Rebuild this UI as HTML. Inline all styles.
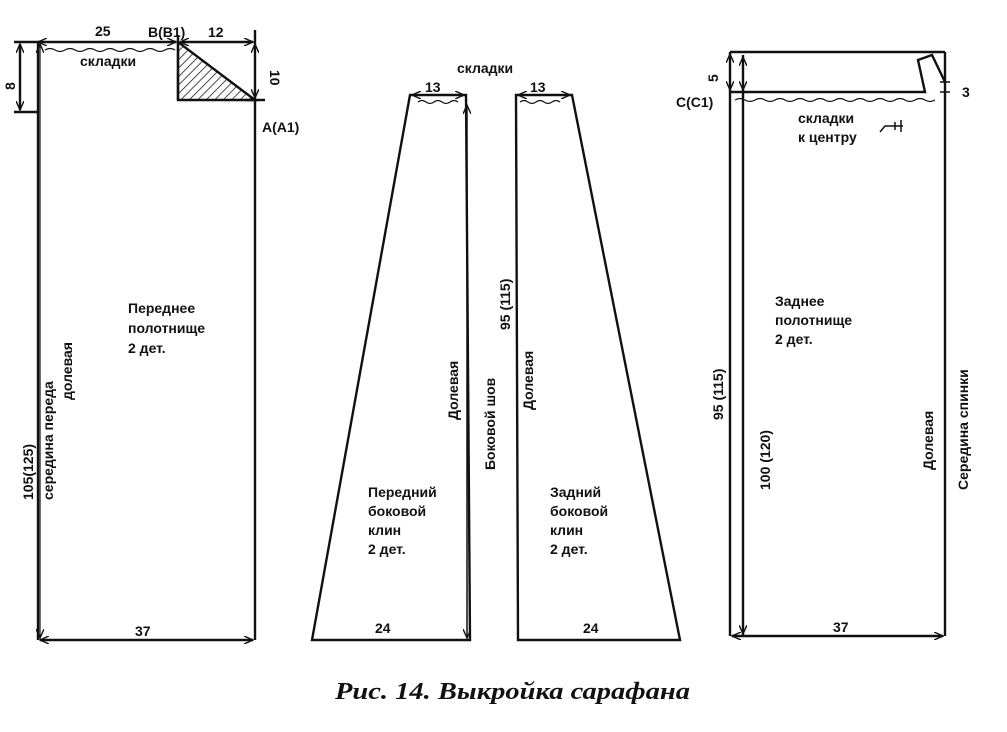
<!DOCTYPE html>
<html><head><meta charset="utf-8"><style>
body{margin:0;background:#fff}
svg text{font-family:"Liberation Sans",sans-serif;font-weight:bold;fill:#111}
</style></head><body>
<svg width="1007" height="727" viewBox="0 0 1007 727" xmlns="http://www.w3.org/2000/svg">
<defs>
<pattern id="h" width="6" height="6" patternUnits="userSpaceOnUse" patternTransform="rotate(45)"><line x1="0" y1="0" x2="0" y2="6" stroke="#111" stroke-width="1.5"/></pattern>
<marker id="a" markerWidth="10" markerHeight="8" refX="9" refY="4" orient="auto-start-reverse" markerUnits="userSpaceOnUse"><path d="M0,0 L9,4 L0,8" fill="none" stroke="#111" stroke-width="1.4"/></marker>
</defs>
<g stroke="#111" stroke-width="2.4" fill="none">
<!-- front panel -->
<polygon points="178,42 178,100 255,100" fill="url(#h)" stroke="#111"/>
<line x1="38" y1="42" x2="38" y2="640"/>
<line x1="255" y1="30" x2="255" y2="640"/>
<line x1="38" y1="42" x2="176" y2="42" marker-start="url(#a)" marker-end="url(#a)"/>
<line x1="180" y1="42" x2="253" y2="42" marker-start="url(#a)" marker-end="url(#a)"/>
<line x1="178" y1="35" x2="178" y2="100"/>
<line x1="14" y1="42" x2="40" y2="42"/>
<line x1="14" y1="112" x2="38" y2="112"/>
<line x1="20" y1="44" x2="20" y2="110" marker-start="url(#a)" marker-end="url(#a)"/>
<line x1="255" y1="44" x2="255" y2="98" marker-start="url(#a)" marker-end="url(#a)" stroke-width="1.5"/>
<line x1="245" y1="100" x2="265" y2="100"/>
<line x1="40" y1="640" x2="253" y2="640" marker-start="url(#a)" marker-end="url(#a)"/>
<line x1="40" y1="44" x2="40" y2="638" marker-start="url(#a)" marker-end="url(#a)" stroke-width="1.2"/>
<path d="M45,50 q5,-3 10,0 t10,0 t10,0 t10,0 t10,0 t10,0 t10,0 t10,0 t10,0 t10,0 t10,0 t10,0 t10,0" stroke-width="1.2"/>
<!-- wedge 1 -->
<polygon points="410,95 466,95 470,640 312,640"/>
<line x1="412" y1="95" x2="464" y2="95" marker-start="url(#a)" marker-end="url(#a)" stroke-width="1.5"/>
<line x1="467" y1="105" x2="467" y2="638" marker-start="url(#a)" marker-end="url(#a)" stroke-width="1.5"/>
<path d="M418,102 q4,-3 8,0 t8,0 t8,0 t8,0 t8,0" stroke-width="1.2"/>
<!-- wedge 2 -->
<polygon points="516,95 572,95 680,640 518,640"/>
<line x1="518" y1="95" x2="570" y2="95" marker-start="url(#a)" marker-end="url(#a)" stroke-width="1.5"/>
<path d="M520,102 q4,-3 8,0 t8,0 t8,0 t8,0 t8,0" stroke-width="1.2"/>
<!-- back panel -->
<line x1="730" y1="52" x2="945" y2="52"/>
<line x1="945" y1="52" x2="945" y2="636"/>
<line x1="743" y1="55" x2="743" y2="636"/>
<line x1="730" y1="52" x2="730" y2="636"/>
<polyline points="730,92 925,92 918,60 932,55 945,82"/>
<line x1="730" y1="54" x2="730" y2="90" marker-start="url(#a)" marker-end="url(#a)" stroke-width="1.2"/>
<line x1="743" y1="57" x2="743" y2="90" marker-start="url(#a)" marker-end="url(#a)" stroke-width="1.2"/>
<line x1="743" y1="96" x2="743" y2="634" marker-end="url(#a)" stroke-width="1.2"/>
<line x1="732" y1="636" x2="943" y2="636" marker-start="url(#a)" marker-end="url(#a)"/>
<line x1="940" y1="82" x2="950" y2="82" stroke-width="1.5"/>
<line x1="940" y1="92" x2="950" y2="92" stroke-width="1.5"/>
<path d="M735,100 q5,-3 10,0 t10,0 t10,0 t10,0 t10,0 t10,0 t10,0 t10,0 t10,0 t10,0 t10,0 t10,0 t10,0 t10,0 t10,0 t10,0 t10,0 t10,0 t10,0 t10,0" stroke-width="1.2"/>
<path d="M880,132 l5,-6 l18,0 m-8,-4 l0,8 m6,-10 l0,12" stroke-width="1.5"/>
</g>
<g font-size="14">
<text x="95" y="36">25</text>
<text x="148" y="37">B(B1)</text>
<text x="208" y="37">12</text>
<text x="80" y="66">складки</text>
<text x="262" y="132">A(A1)</text>
<text transform="translate(15,90) rotate(-90)">8</text>
<text transform="translate(270,70) rotate(90)">10</text>
<text x="128" y="313">Переднее</text>
<text x="128" y="333">полотнище</text>
<text x="128" y="353">2 дет.</text>
<text transform="translate(33,500) rotate(-90)">105(125)</text>
<text transform="translate(53,500) rotate(-90)">середина переда</text>
<text transform="translate(72,400) rotate(-90)">долевая</text>
<text x="135" y="636">37</text>
<text x="457" y="73">складки</text>
<text x="425" y="92">13</text>
<text x="530" y="92">13</text>
<text transform="translate(458,420) rotate(-90)">Долевая</text>
<text transform="translate(495,470) rotate(-90)">Боковой шов</text>
<text transform="translate(510,330) rotate(-90)">95 (115)</text>
<text transform="translate(533,410) rotate(-90)">Долевая</text>
<text x="368" y="497">Передний</text>
<text x="368" y="516">боковой</text>
<text x="368" y="535">клин</text>
<text x="368" y="554">2 дет.</text>
<text x="550" y="497">Задний</text>
<text x="550" y="516">боковой</text>
<text x="550" y="535">клин</text>
<text x="550" y="554">2 дет.</text>
<text x="375" y="633">24</text>
<text x="583" y="633">24</text>
<text transform="translate(718,82) rotate(-90)">5</text>
<text x="676" y="107">C(C1)</text>
<text x="962" y="97">3</text>
<text x="798" y="123">складки</text>
<text x="798" y="142">к центру</text>
<text x="775" y="306">Заднее</text>
<text x="775" y="325">полотнище</text>
<text x="775" y="344">2 дет.</text>
<text transform="translate(723,420) rotate(-90)">95 (115)</text>
<text transform="translate(770,490) rotate(-90)">100 (120)</text>
<text transform="translate(933,470) rotate(-90)">Долевая</text>
<text transform="translate(968,490) rotate(-90)">Середина спинки</text>
<text x="833" y="632">37</text>
</g>
<text x="335" y="699" font-size="24" font-style="italic" textLength="355" lengthAdjust="spacingAndGlyphs" style="font-family:'Liberation Serif',serif">Рис. 14. Выкройка сарафана</text>
</svg>
</body></html>
